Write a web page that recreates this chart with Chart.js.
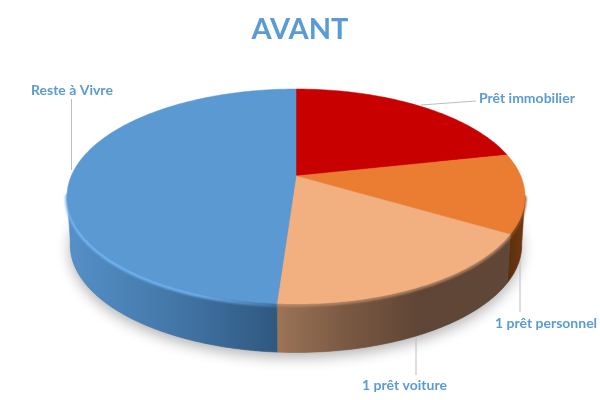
<!DOCTYPE html>
<html>
<head>
<meta charset="utf-8">
<style>html,body{margin:0;padding:0;background:#fff}#c{display:block}</style>
<script src="https://cdn.jsdelivr.net/npm/chart.js@4"></script>
</head>
<body>
<canvas id="c" width="600" height="400"></canvas>
<script>
const titleText = 'AVANT';
const categories = ['Prêt immobilier', '1 prêt personnel', '1 prêt voiture', 'Reste à Vivre'];
const values = [21.6, 11.9, 17.6, 48.9];
const sliceColors = ['#C80000', '#EA7D32', '#F2AF80', '#5B99D3'];

const TEXT = '#5B9BD5', FONT = 'Lato, "Open Sans", sans-serif';
const shiftX = -4, apexFrac = 87 / 215, depth = 48.5, bottomScale = 0.986;

function project(chart, angle, level) {
  const a = chart.chartArea;
  const W = (a.right - a.left) / 2, H = a.bottom - a.top;
  const up = H * apexFrac, lo = H - up;
  const k = (lo - up) / (lo + up), ry = lo * (1 - k), rx = W * Math.sqrt(1 - k * k);
  const u = Math.cos(angle), v = Math.sin(angle), w = 1 - k * v;
  const s = level ? bottomScale : 1;
  return { x: (a.left + a.right) / 2 + shiftX + s * rx * u / w,
           y: a.top + up + ry * v / w + level * depth, k, front: v };
}
function samples(start, end) {
  const out = [], n = Math.max(2, Math.ceil((end - start) / 0.02));
  for (let i = 0; i <= n; i++) out.push(start + (end - start) * i / n);
  return out;
}
function wallGradient(ctx, stops) {
  const g = ctx.createLinearGradient(stops[0][0], 0, stops[stops.length - 1][0], 0);
  const span = stops[stops.length - 1][0] - stops[0][0];
  stops.forEach(s => g.addColorStop((s[0] - stops[0][0]) / span, s[1]));
  return g;
}
function frontAngles(start, end, chart) {
  const k = project(chart, 0, 0).k;
  return samples(start, end).filter(t => Math.sin(t) >= k - 0.03);
}
function strokeArc(ctx, chart, angles, style, width, blur, dy) {
  if (!angles.length) return;
  ctx.save();
  if (blur) ctx.filter = 'blur(' + blur + 'px)';
  ctx.beginPath();
  angles.forEach((t, i) => { const p = project(chart, t, 0); ctx[i ? 'lineTo' : 'moveTo'](p.x, p.y + dy); });
  ctx.strokeStyle = style; ctx.lineWidth = width; ctx.stroke();
  ctx.restore();
}

const tiltPie = {
  id: 'tiltPie',
  beforeDatasetDraw(chart) {
    const ctx = chart.ctx, arcs = chart.getDatasetMeta(0).data;

    // soft ground shadow
    ctx.save();
    ctx.shadowColor = 'rgba(0,0,0,0.3)'; ctx.shadowBlur = 14; ctx.shadowOffsetY = 5;
    ctx.fillStyle = '#8a8a8a'; ctx.beginPath();
    samples(0, Math.PI * 2).forEach((t, i) => { const p = project(chart, t, 1); ctx[i ? 'lineTo' : 'moveTo'](p.x, p.y); });
    ctx.closePath(); ctx.fill();
    ctx.restore();

    // leader lines
    const leaders = [[[421, 105], [476, 101]], [[520, 235], [520, 312]], [[416, 338], [416, 375]], [[71.5, 170], [71.5, 99]]];
    ctx.save(); ctx.strokeStyle = '#BDBDBD'; ctx.lineWidth = 1;
    leaders.forEach(l => { ctx.beginPath(); ctx.moveTo(l[0][0], l[0][1]); ctx.lineTo(l[1][0], l[1][1]); ctx.stroke(); });
    ctx.restore();

    // side walls
    const walls = [
      null,
      [[505, '#5A2C0B'], [525, '#6E3A12']],
      [[277, '#9C7456'], [345, '#7A5943'], [420, '#5F4535'], [510, '#604737']],
      [[68, '#5590C8'], [170, '#4478A9'], [277, '#2F5880']]
    ];
    arcs.forEach((el, i) => {
      if (!walls[i]) return;
      const ang = frontAngles(el.startAngle, el.endAngle, chart);
      if (ang.length < 2) return;
      const g = wallGradient(ctx, walls[i]);
      ctx.beginPath();
      ang.forEach((t, j) => { const p = project(chart, t, 0); ctx[j ? 'lineTo' : 'moveTo'](p.x, p.y); });
      ang.slice().reverse().forEach(t => { const p = project(chart, t, 1); ctx.lineTo(p.x, p.y); });
      ctx.closePath();
      ctx.fillStyle = g; ctx.fill();
      ctx.strokeStyle = g; ctx.lineWidth = 0.5; ctx.stroke();
    });

    // rims just under the top face
    const rim = [null, 'rgba(150,80,30,0.9)', 'rgba(190,140,105,0.9)', null];
    arcs.forEach((el, i) => {
      if (!rim[i]) return;
      strokeArc(ctx, chart, frontAngles(el.startAngle, el.endAngle, chart), rim[i], 3, 1, 1);
    });
    const blueRim = ctx.createLinearGradient(68, 0, 277, 0);
    blueRim.addColorStop(0, 'rgba(115,182,245,1)');
    blueRim.addColorStop(0.65, 'rgba(112,178,240,1)');
    blueRim.addColorStop(1, 'rgba(90,150,205,0.5)');
    strokeArc(ctx, chart, frontAngles(arcs[3].startAngle, arcs[3].endAngle, chart), blueRim, 3.5, 0.8, 1.5);

    // top faces
    arcs.forEach(el => {
      const c = el.options.backgroundColor;
      ctx.beginPath();
      ctx.moveTo(el.x + shiftX, chart.chartArea.top + (chart.chartArea.bottom - chart.chartArea.top) * apexFrac);
      samples(el.startAngle, el.endAngle).forEach(t => { const p = project(chart, t, 0); ctx.lineTo(p.x, p.y); });
      ctx.closePath();
      ctx.fillStyle = c; ctx.fill();
      ctx.strokeStyle = c; ctx.lineWidth = 0.5; ctx.stroke();
    });

    // category labels
    const spots = [[479, 98], [495, 323], [362, 385], [31, 90]];
    ctx.save();
    ctx.font = 'bold 14px ' + FONT; ctx.fillStyle = TEXT; ctx.textBaseline = 'middle'; ctx.textAlign = 'left';
    categories.forEach((c, i) => ctx.fillText(c, spots[i][0], spots[i][1]));
    ctx.restore();
    return false;
  }
};

new Chart(document.getElementById('c'), {
  type: 'pie',
  data: { labels: categories, datasets: [{ data: values, backgroundColor: sliceColors, borderWidth: 0 }] },
  options: {
    responsive: false, animation: false, devicePixelRatio: 1,
    layout: { padding: { left: 71, right: 71, top: 0, bottom: 96 } },
    plugins: {
      legend: { display: false }, tooltip: { enabled: false },
      title: { display: true, text: titleText, color: TEXT,
               font: { family: FONT, size: 29, weight: 'bold' }, padding: { top: 12, bottom: 42.2 } }
    }
  },
  plugins: [tiltPie]
});
</script>
</body>
</html>
